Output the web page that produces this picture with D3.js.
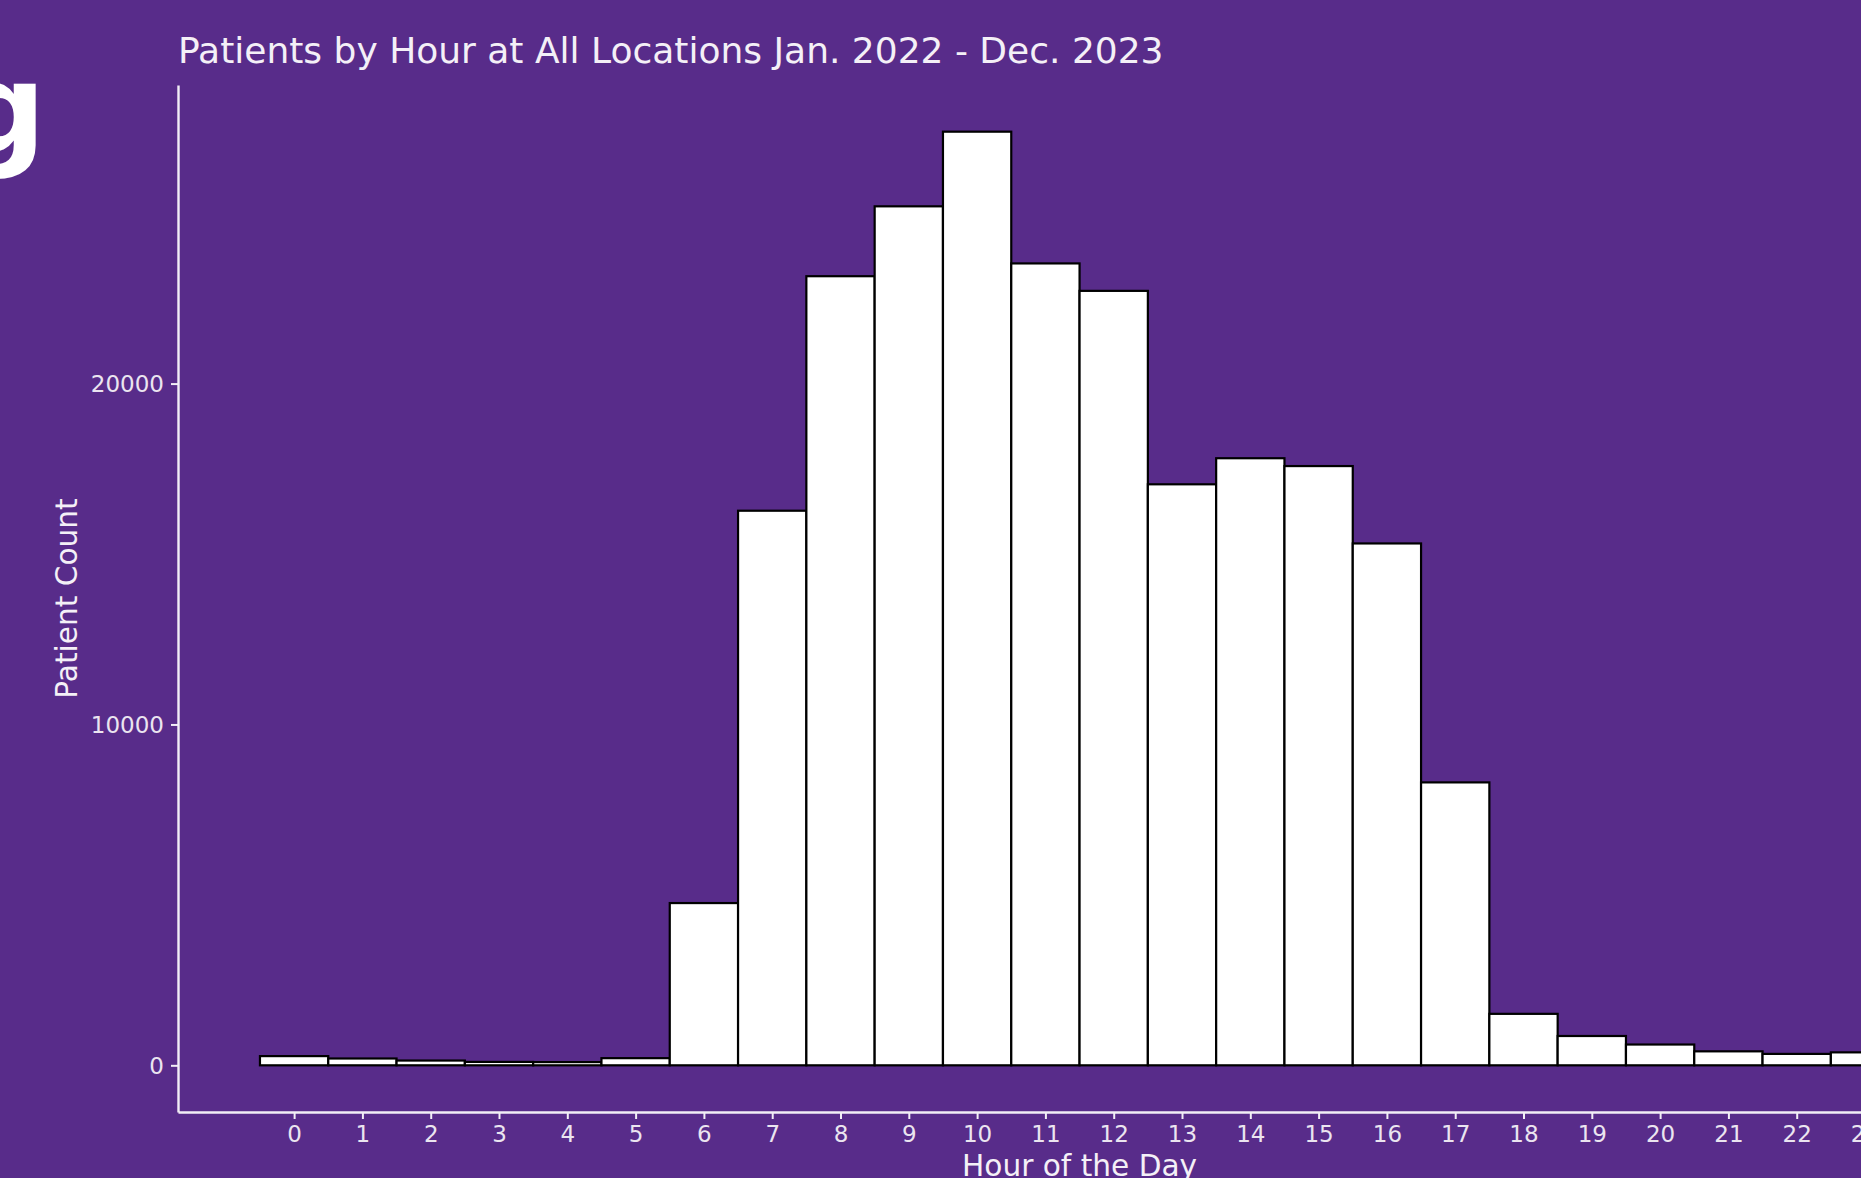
<!DOCTYPE html>
<html>
<head>
<meta charset="utf-8">
<script src="https://cdn.jsdelivr.net/npm/d3@7"></script>
<style>
  html, body { margin: 0; padding: 0; background: #582c8a; overflow: hidden; }
  svg { display: block; }
  text { font-family: "DejaVu Sans", sans-serif; }
</style>
</head>
<body>
<svg id="chart"></svg>
<script>
// patients per hour of day
const hours = d3.range(0, 24)
const counts = [270, 200, 140, 100, 95, 210, 4760, 16270, 23150, 25200, 27390, 23525,
                22720, 17045, 17810, 17580, 15310, 8300, 1510, 860, 610, 410, 335, 380]
const yTicks = [0, 10000, 20000]
const titleText = 'Patients by Hour at All Locations Jan. 2022 - Dec. 2023'

const W = 1861, H = 1178
const bg = '#582c8a'

let svg = d3.select('#chart')
    .attr('width', W)
    .attr('height', H)

svg.append('rect')
    .attr('width', W)
    .attr('height', H)
    .attr('fill', bg)

// panel bounds, panel runs past right edge like the original
let panelLeft = 178, panelTop = 85, panelBottom = 1112
let unit = 68.3
let xMin = -1.7, xMax = 24.7

let x = d3.scaleLinear()
    .domain([xMin, xMax])
    .range([panelLeft, panelLeft + (xMax - xMin) * unit])

let maxC = d3.max(counts)
let y = d3.scaleLinear()
    .domain([-0.05 * maxC, 1.05 * maxC])
    .range([panelBottom, panelTop])

// bars
svg.append('g')
    .selectAll('rect')
    .data(hours)
    .enter()
    .append('rect')
    .attr('x', d => x(d - 0.5))
    .attr('width', d => x(d + 0.5) - x(d - 0.5))
    .attr('y', d => y(counts[d]))
    .attr('height', d => y(0) - y(counts[d]))
    .attr('fill', '#ffffff')
    .attr('stroke', '#000000')
    .attr('stroke-width', 2.2)

// axes
let xAxis = svg.append('g')
    .attr('transform', `translate(0,${panelBottom})`)
    .call(d3.axisBottom(x).tickValues(hours).tickSize(7).tickPadding(7).tickSizeOuter(0))
let yAxis = svg.append('g')
    .attr('transform', `translate(${panelLeft},0)`)
    .call(d3.axisLeft(y).tickValues(yTicks).tickFormat(d3.format('d'))
        .tickSize(7).tickPadding(7).tickSizeOuter(0))

;[xAxis, yAxis].forEach(a => {
    a.select('.domain').attr('stroke', '#f2eef6').attr('stroke-width', 2.4)
    a.selectAll('.tick line').attr('stroke', '#f2eef6').attr('stroke-width', 2)
    a.selectAll('.tick text')
        .attr('fill', '#ebe5f0')
        .style('font-size', '23px')
        .style('font-family', '"DejaVu Sans", sans-serif')
})
yAxis.selectAll('.tick text').attr('dy', '0.36em')

// titles
svg.append('text')
    .attr('x', panelLeft)
    .attr('y', 63)
    .attr('fill', '#f4f0f7')
    .style('font-size', '36px')
    .text(titleText)

svg.append('text')
    .attr('transform', `translate(77,${(panelTop + panelBottom) / 2}) rotate(-90)`)
    .attr('text-anchor', 'middle')
    .attr('fill', '#f4f0f7')
    .style('font-size', '29.6px')
    .text('Patient Count')

svg.append('text')
    .attr('x', (x.range()[0] + x.range()[1]) / 2)
    .attr('y', 1176)
    .attr('text-anchor', 'middle')
    .attr('fill', '#f4f0f7')
    .style('font-size', '29.6px')
    .text('Hour of the Day')

// stray logo letter cut off at the left edge
svg.append('text')
    .attr('x', 46)
    .attr('y', 152)
    .attr('text-anchor', 'end')
    .attr('fill', '#ffffff')
    .style('font-size', '124px')
    .style('font-weight', 'bold')
    .text('g')
</script>
</body>
</html>
